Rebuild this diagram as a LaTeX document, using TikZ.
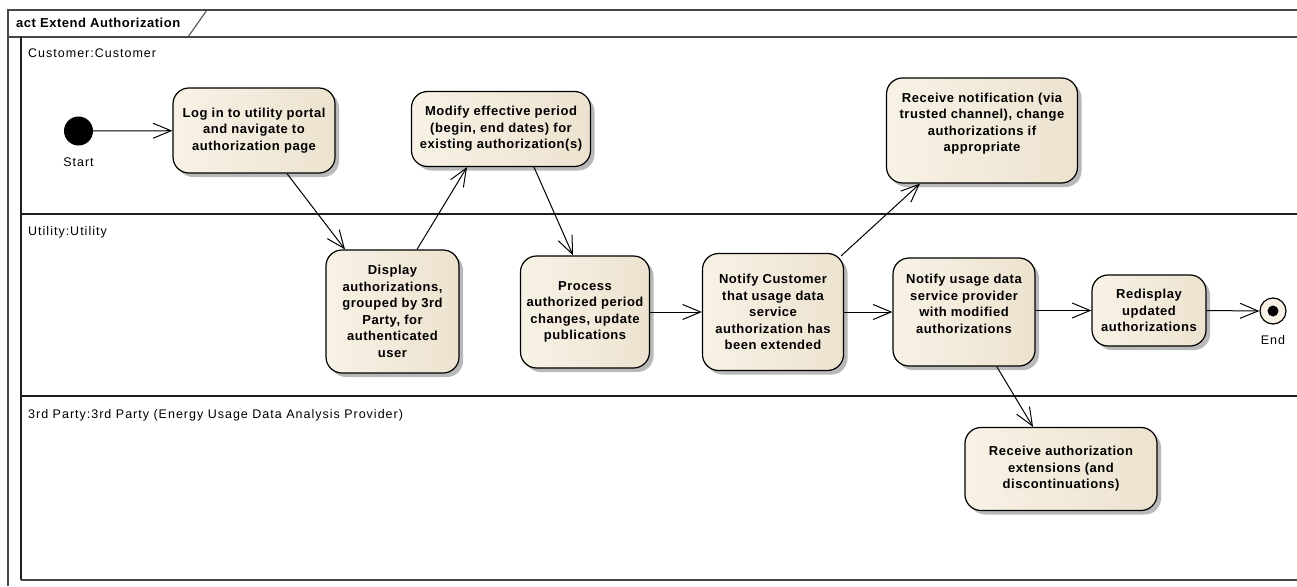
\documentclass[tikz,border=0pt]{standalone}
\usepackage{fontspec}
\setmainfont{Liberation Sans}
\newfontfamily\nodefont[LetterSpace=4]{Liberation Sans}
\newfontfamily\lanefont[LetterSpace=8]{Liberation Sans}
\usetikzlibrary{arrows.meta,shadows,calc}
\definecolor{boxL}{RGB}{248,242,230}
\definecolor{boxR}{RGB}{236,226,207}
\definecolor{framec}{RGB}{70,70,70}
\definecolor{lanec}{RGB}{30,30,30}
\definecolor{shadowc}{RGB}{185,185,185}
\tikzset{
  act/.style={draw=black, line width=1.2pt, rounded corners=16pt,
    left color=boxL, right color=boxR,
    drop shadow={shadow xshift=4pt, shadow yshift=-4pt, fill=shadowc, opacity=1},
    align=center, inner sep=2pt,
    font=\nodefont\bfseries\fontsize{13}{16.5}\selectfont},
  flow/.style={draw=black, line width=1pt,
    -{Straight Barb[length=18pt,width=15pt,line width=1pt]}},
  lanelabel/.style={anchor=base west, inner sep=0pt,
    font=\lanefont\fontsize{12.5}{15}\selectfont},
  framerule/.style={draw=framec, line width=1.5pt},
  lanerule/.style={draw=lanec, line width=1.3pt}
}
\begin{document}
\begin{tikzpicture}[x=1pt,y=-1pt]
\useasboundingbox (0,0) rectangle (1297,586);
% frame
\draw[framerule] (8,586) -- (8,10) -- (1297,10);
\draw[framerule] (8,37) -- (1297,37);
\draw[framerule, line width=1pt] (207,10) -- (188,37);
\node[anchor=base west, inner sep=0pt, font=\nodefont\bfseries\fontsize{13}{15}\selectfont] (title) at (16,28) {act Extend Authorization};
% lanes
\draw[lanerule] (21,37) -- (21,580);
\draw[lanerule] (21,214) -- (1297,214);
\draw[lanerule] (21,396) -- (1297,396);
\draw[draw=framec, line width=1.3pt] (21,580) -- (1297,580);
\node[lanelabel] (lane1) at (28,57) {Customer:Customer};
\node[lanelabel] (lane2) at (28,235) {Utility:Utility};
\node[lanelabel] (lane3) at (28,418) {3rd Party:3rd Party (Energy Usage Data Analysis Provider)};
% start / end
\node[circle, fill=black, minimum size=29pt, inner sep=0pt] (start) at (78.5,131) {};
\node[lanelabel, anchor=center] (startlbl) at (78.5,162) {Start};
\node[circle, draw=black, line width=1.2pt, fill=boxL, minimum size=26pt, inner sep=0pt] (end) at (1273,311) {};
\fill[black] (end.center) circle (5.5pt);
\node[lanelabel, anchor=center] (endlbl) at (1273,340) {End};
% actions
\node[act, minimum width=162pt, minimum height=85pt] (login) at (254,130.5)
  {Log in to utility portal\\and navigate to\\authorization page};
\node[act, minimum width=179pt, minimum height=75pt] (modify) at (501,129)
  {Modify effective period\\(begin, end dates) for\\existing authorization(s)};
\node[act, minimum width=191pt, minimum height=105pt] (recvnot) at (982,130.5)
  {Receive notification (via\\trusted channel), change\\authorizations if\\appropriate\\~};
\node[act, minimum width=133pt, minimum height=123pt] (display) at (392.5,311.5)
  {Display\\authorizations,\\grouped by 3rd\\Party, for\\authenticated\\user};
\node[act, minimum width=129pt, minimum height=112pt] (process) at (585,312)
  {Process\\authorized period\\changes, update\\publications};
\node[act, minimum width=141pt, minimum height=117pt] (notifyc) at (773,312)
  {Notify Customer\\that usage data\\service\\authorization has\\been extended};
\node[act, minimum width=142pt, minimum height=108pt] (notifyu) at (964,312)
  {Notify usage data\\service provider\\with modified\\authorizations\\~};
\node[act, minimum width=114pt, minimum height=71pt] (redisplay) at (1149,310.5)
  {Redisplay\\updated\\authorizations};
\node[act, minimum width=192pt, minimum height=83pt] (recvext) at (1061,469)
  {Receive authorization\\extensions (and\\discontinuations)};
% flows
\draw[flow] (start) -- (login);
\draw[flow] (login) -- (display);
\draw[flow] ($(display.north)+(24.5,0)$) -- ($(modify.south)+(-34,0)$);
\draw[flow] ($(modify.south)+(33,0)$) -- ($(process.north)+(-12,0)$);
\draw[flow] (process.east) -- (notifyc.west |- process.east);
\draw[flow] ($(notifyc.north east)+(-3,3)$) -- ($(recvnot.south)+(-62,0)$);
\draw[flow] (notifyc.east) -- (notifyu.west |- notifyc.east);
\draw[flow] (notifyu.east |- redisplay.west) -- (redisplay.west);
\draw[flow] (redisplay.east) -- (end.west);
\draw[flow] ($(notifyu.south)+(32.7,0)$) -- ($(recvext.north)+(-28,0)$);
\end{tikzpicture}
\end{document}
